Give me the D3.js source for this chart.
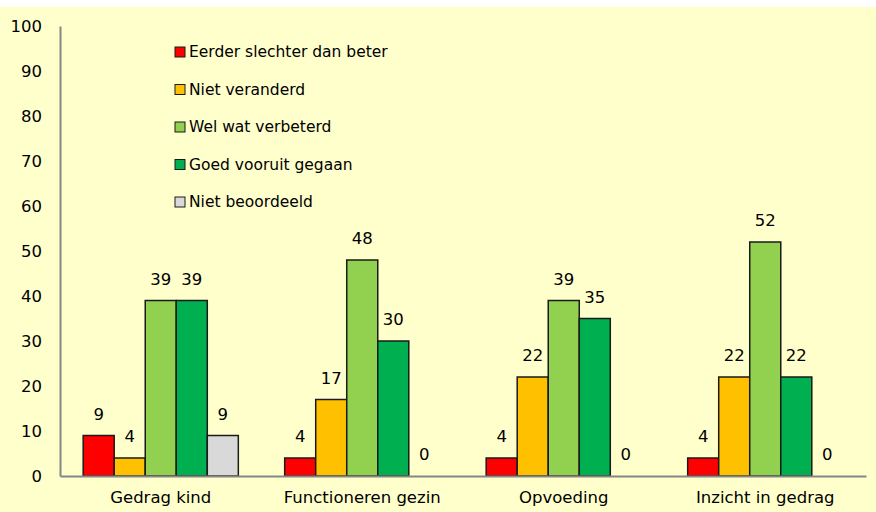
<!DOCTYPE html>
<html>
<head>
<meta charset="utf-8">
<script src="https://cdn.jsdelivr.net/npm/d3@7"></script>
<style>
body { margin: 0; background: #fff; }
svg { display: block; font-family: 'DejaVu Sans', Verdana, sans-serif; }
</style>
</head>
<body>
<svg width="876" height="512"></svg>
<script>
// categories and series
var categories = ['Gedrag kind', 'Functioneren gezin', 'Opvoeding', 'Inzicht in gedrag'];
var seriesNames = ['Eerder slechter dan beter', 'Niet veranderd', 'Wel wat verbeterd', 'Goed vooruit gegaan', 'Niet beoordeeld'];
var seriesColors = ['#ff0000', '#ffc000', '#92d050', '#00b050', '#d9d9d9'];
var eerderSlechter = [9, 4, 4, 4];
var nietVeranderd = [4, 17, 22, 22];
var welVerbeterd = [39, 48, 39, 52];
var goedVooruit = [39, 30, 35, 22];
var nietBeoordeeld = [9, 0, 0, 0];
var yTicks = [0, 10, 20, 30, 40, 50, 60, 70, 80, 90, 100];

var series = [eerderSlechter, nietVeranderd, welVerbeterd, goedVooruit, nietBeoordeeld];
var fs = 16.5;

var svg = d3.select('svg');

svg.append('rect')
  .attr('x', 0).attr('y', 7)
  .attr('width', 876).attr('height', 505)
  .attr('fill', '#ffffcc');

var margin = {top: 26, left: 60, right: 10, bottom: 36},
  width = 866 - margin.left,
  height = 476 - margin.top,
  g = svg.append('g').attr('transform', 'translate(' + margin.left + ',' + margin.top + ')');

var x0 = d3.scaleBand().domain(categories).range([0, width]).paddingInner(0.23).paddingOuter(0.115);
var x1 = d3.scaleBand().domain(d3.range(seriesNames.length)).range([0, x0.bandwidth()]);
var y = d3.scaleLinear().domain([0, 100]).range([height, 0]);

// y axis: line and labels only
var yAxis = g.append('g')
  .call(d3.axisLeft(y).tickValues(yTicks).tickSize(0).tickPadding(18));
yAxis.select('.domain').attr('stroke', '#868686').attr('stroke-width', 2);
yAxis.selectAll('text').attr('font-size', fs).attr('fill', '#000').attr('font-family', 'DejaVu Sans');

// bars
var groups = g.selectAll('.cat')
  .data(categories)
  .enter().append('g')
  .attr('class', 'cat')
  .attr('transform', function(d) { return 'translate(' + x0(d) + ',0)'; });

groups.selectAll('rect')
  .data(function(d, ci) { return series.map(function(s, si) { return {si: si, v: s[ci]}; }); })
  .enter().append('rect')
  .filter(function(d) { return d.v > 0; })
  .attr('x', function(d) { return x1(d.si); })
  .attr('y', function(d) { return y(d.v); })
  .attr('width', x1.bandwidth())
  .attr('height', function(d) { return height - y(d.v); })
  .attr('fill', function(d) { return seriesColors[d.si]; })
  .attr('stroke', '#1a1a1a')
  .attr('stroke-width', 1.5);

groups.selectAll('.val')
  .data(function(d, ci) { return series.map(function(s, si) { return {si: si, v: s[ci]}; }); })
  .enter().append('text')
  .attr('class', 'val')
  .attr('x', function(d) { return x1(d.si) + x1.bandwidth() / 2; })
  .attr('y', function(d) { return y(d.v) - 16; })
  .attr('text-anchor', 'middle')
  .attr('font-size', fs)
  .text(function(d) { return d.v; });

// x axis
var xAxis = g.append('g')
  .attr('transform', 'translate(0,' + height + ')')
  .call(d3.axisBottom(x0).tickSize(0).tickPadding(15).tickSizeOuter(0));
xAxis.select('.domain').attr('stroke', '#868686').attr('stroke-width', 2);
xAxis.selectAll('text').attr('font-size', fs).attr('fill', '#000').attr('font-family', 'DejaVu Sans');

// legend
var legend = svg.append('g').attr('transform', 'translate(175,52)');
var item = legend.selectAll('.leg')
  .data(seriesNames)
  .enter().append('g')
  .attr('transform', function(d, i) { return 'translate(0,' + (i * 37.5) + ')'; });
item.append('rect')
  .attr('x', 0).attr('y', -5)
  .attr('width', 10).attr('height', 10)
  .attr('fill', function(d, i) { return seriesColors[i]; })
  .attr('stroke', '#1a1a1a')
  .attr('stroke-width', 1);
item.append('text')
  .attr('x', 14).attr('y', 0)
  .attr('dy', '0.35em')
  .attr('font-size', 15.5)
  .text(function(d) { return d; });
</script>
</body>
</html>
